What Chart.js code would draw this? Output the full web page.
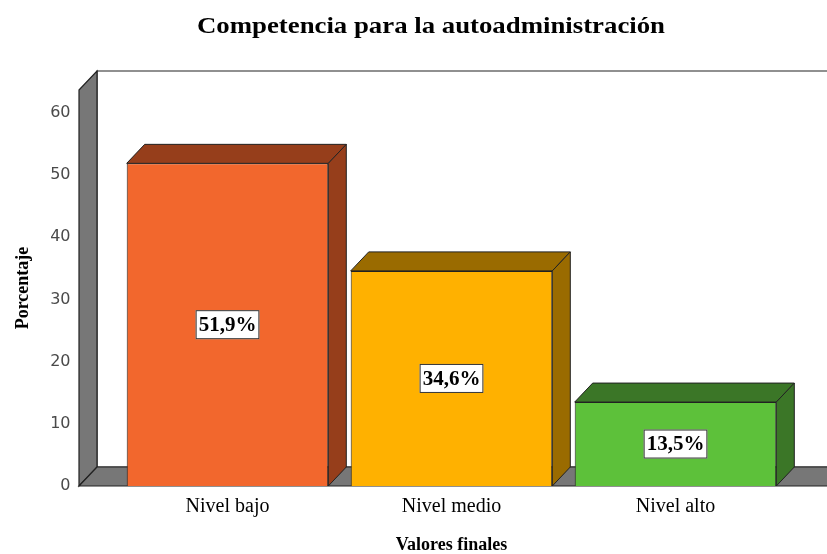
<!DOCTYPE html>
<html>
<head>
<meta charset="utf-8">
<script src="https://cdn.jsdelivr.net/npm/chart.js@4.4.1/dist/chart.umd.min.js"></script>
<style>
  html, body { margin: 0; padding: 0; background: #fff; }
  canvas { display: block; }
</style>
</head>
<body>
<canvas id="c" width="827" height="554"></canvas>
<script>
// ---- data ----
const categories = ['Nivel bajo', 'Nivel medio', 'Nivel alto'];
const percentages = [51.9, 34.6, 13.5];
const valueLabels = ['51,9%', '34,6%', '13,5%'];
const yTickValues = [0, 10, 20, 30, 40, 50, 60];
const yAxisMax = 63.7;
const chartTitle = 'Competencia para la autoadministración';
const xAxisTitle = 'Valores finales';
const yAxisTitle = 'Porcentaje';

// ---- styles ----
const frontColors = ['#F2672D', '#FFB100', '#5DC13A'];
const darkColors  = ['#963E1B', '#9A6B00', '#3B7627'];
const wallGray = '#777777';
const DX = 18, DY = 19;

const threeD = {
  id: 'threeD',
  beforeDatasetsDraw(chart) {
    const ctx = chart.ctx;
    const a = chart.chartArea;
    const y = chart.scales.y;
    const base = y.getPixelForValue(0);
    const top = y.getPixelForValue(yAxisMax);
    const wx = a.left - 36.5;
    const W = chart.width + 40;
    ctx.save();
    ctx.lineWidth = 1.2;
    ctx.strokeStyle = '#222';
    // back wall
    ctx.fillStyle = '#ffffff';
    ctx.beginPath();
    ctx.moveTo(W, top - DY);
    ctx.lineTo(wx + DX, top - DY);
    ctx.lineTo(wx + DX, base - DY);
    ctx.lineTo(W, base - DY);
    ctx.fill();
    ctx.stroke();
    // left wall
    ctx.fillStyle = wallGray;
    ctx.beginPath();
    ctx.moveTo(wx, top);
    ctx.lineTo(wx + DX, top - DY);
    ctx.lineTo(wx + DX, base - DY);
    ctx.lineTo(wx, base);
    ctx.closePath();
    ctx.fill();
    ctx.stroke();
    // floor
    ctx.beginPath();
    ctx.moveTo(wx, base);
    ctx.lineTo(wx + DX, base - DY);
    ctx.lineTo(W, base - DY);
    ctx.lineTo(W, base);
    ctx.closePath();
    ctx.fill();
    ctx.stroke();
    ctx.restore();
  },
  afterDatasetsDraw(chart) {
    const ctx = chart.ctx;
    const meta = chart.getDatasetMeta(0);
    ctx.save();
    ctx.lineWidth = 1;
    ctx.strokeStyle = '#222';
    meta.data.forEach((bar, i) => {
      const p = bar.getProps(['x', 'y', 'base', 'width'], true);
      const L = p.x - p.width / 2, R = p.x + p.width / 2;
      ctx.fillStyle = darkColors[i];
      // top
      ctx.beginPath();
      ctx.moveTo(L, p.y);
      ctx.lineTo(L + DX, p.y - DY);
      ctx.lineTo(R + DX, p.y - DY);
      ctx.lineTo(R, p.y);
      ctx.closePath();
      ctx.fill(); ctx.stroke();
      // side
      ctx.beginPath();
      ctx.moveTo(R, p.y);
      ctx.lineTo(R + DX, p.y - DY);
      ctx.lineTo(R + DX, p.base - DY);
      ctx.lineTo(R, p.base);
      ctx.closePath();
      ctx.fill(); ctx.stroke();
      // value label box
      ctx.font = 'bold 21px "Liberation Serif"';
      const tw = ctx.measureText(valueLabels[i]).width;
      const cy = (p.y + p.base) / 2;
      const bw = tw + 6, bh = 29;
      ctx.fillStyle = '#ffffff';
      ctx.fillRect(p.x - bw / 2, cy - bh / 2, bw, bh);
      ctx.strokeStyle = '#333';
      ctx.strokeRect(p.x - bw / 2 + 0.5, cy - bh / 2 + 0.5, bw - 1, bh - 1);
      ctx.fillStyle = '#000';
      ctx.textAlign = 'center';
      ctx.textBaseline = 'middle';
      ctx.fillText(valueLabels[i], p.x, cy + 1);
      ctx.strokeStyle = '#222';
    });
    ctx.restore();
  },
  afterDraw(chart) {
    const ctx = chart.ctx;
    ctx.save();
    ctx.font = 'bold 24px "Liberation Serif"';
    const w = ctx.measureText(chartTitle).width;
    ctx.translate(431, 27);
    ctx.scale(468 / w, 1);
    ctx.fillStyle = '#000';
    ctx.textAlign = 'center';
    ctx.textBaseline = 'middle';
    ctx.fillText(chartTitle, 0, 0);
    ctx.restore();
  }
};

new Chart(document.getElementById('c'), {
  type: 'bar',
  data: {
    labels: categories,
    datasets: [{
      data: percentages,
      backgroundColor: frontColors,
      borderColor: '#222',
      borderWidth: 1,
      categoryPercentage: 0.9,
      barPercentage: 1.0
    }]
  },
  options: {
    responsive: false,
    devicePixelRatio: 1,
    animation: false,
    layout: { padding: { top: 90, right: 39.5, left: 0, bottom: 0 } },
    plugins: {
      legend: { display: false },
      tooltip: { enabled: false },
      title: { display: false }
    },
    scales: {
      x: {
        grid: { display: false, drawTicks: false },
        border: { display: false },
        ticks: { color: '#000', font: { family: 'Liberation Serif', size: 20 }, padding: 9 },
        title: { display: true, text: xAxisTitle, color: '#000',
                 font: { family: 'Liberation Serif', size: 18, weight: 'bold', lineHeight: 1 },
                 padding: { top: 0, bottom: 0 } },
        afterFit(s) { s.height = 68; }
      },
      y: {
        min: 0,
        max: yAxisMax,
        grid: { display: false, drawTicks: false },
        border: { display: false },
        ticks: { stepSize: 10, color: '#4a4a4a', font: { family: 'DejaVu Sans', size: 16 }, padding: 45 },
        afterBuildTicks(s) { s.ticks = yTickValues.map(v => ({ value: v })); },
        title: { display: true, text: yAxisTitle, color: '#000',
                 font: { family: 'Liberation Serif', size: 18, weight: 'bold' },
                 padding: { top: 13, bottom: 0 } },
        afterFit(s) { s.width = 115.5; }
      }
    }
  },
  plugins: [threeD]
});
</script>
</body>
</html>
